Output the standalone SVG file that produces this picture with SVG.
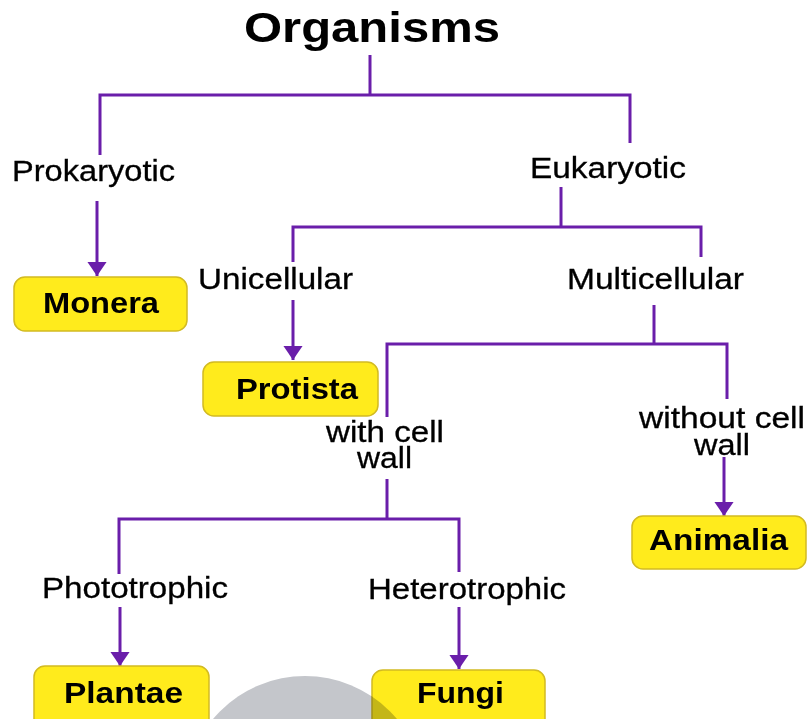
<svg xmlns="http://www.w3.org/2000/svg" width="807" height="719" viewBox="0 0 807 719">
  <style>
    .title { font-family: "Liberation Sans", Arial, sans-serif; font-weight: bold; font-size: 43px; fill: #000; }
    .lbl { font-family: "Liberation Sans", Arial, sans-serif; font-size: 29px; fill: #000; stroke: #000; stroke-width: 0.3; }
    .nodeTxt { font-family: "Liberation Sans", Arial, sans-serif; font-weight: bold; font-size: 29px; fill: #000; }
    .box { fill: #FFEB1C; stroke: #D2BA22; stroke-width: 1.5; }
    .conn { fill: none; stroke: #6A1EAA; stroke-width: 3; stroke-linecap: butt; stroke-linejoin: miter; }
  </style>
  <defs>
    <marker id="arrow" markerWidth="5" markerHeight="6.4" refX="4.7" refY="3.2" orient="auto" markerUnits="strokeWidth">
      <path d="M0,0 L4.7,3.2 L0,6.4 Z" fill="#6A1EAA"/>
    </marker>
  </defs>
  <rect width="807" height="719" fill="#FFFFFF"/>

  <g id="title">
    <text class="title" x="244" y="42" textLength="256" lengthAdjust="spacingAndGlyphs">Organisms</text>
  </g>

  <g id="connectors">
    <path class="conn" d="M370,55 V95"/>
    <path class="conn" d="M100,155 V95 H630 V143"/>
    <path class="conn" d="M97,201 V276" marker-end="url(#arrow)"/>
    <path class="conn" d="M561,187 V227"/>
    <path class="conn" d="M293,262 V227 H701 V257"/>
    <path class="conn" d="M293,300 V360" marker-end="url(#arrow)"/>
    <path class="conn" d="M654,305 V344"/>
    <path class="conn" d="M387,417 V344 H727 V399"/>
    <path class="conn" d="M724,457 V516" marker-end="url(#arrow)"/>
    <path class="conn" d="M387,479 V519"/>
    <path class="conn" d="M119,574 V519 H459 V572"/>
    <path class="conn" d="M120,607 V666" marker-end="url(#arrow)"/>
    <path class="conn" d="M459,607 V669" marker-end="url(#arrow)"/>
  </g>

  <g id="label-prokaryotic">
    <text class="lbl" x="12" y="181" textLength="163" lengthAdjust="spacingAndGlyphs">Prokaryotic</text>
  </g>
  <g id="label-eukaryotic">
    <text class="lbl" x="530" y="178" textLength="156" lengthAdjust="spacingAndGlyphs">Eukaryotic</text>
  </g>
  <g id="label-unicellular">
    <text class="lbl" x="198" y="289" textLength="155" lengthAdjust="spacingAndGlyphs">Unicellular</text>
  </g>
  <g id="label-multicellular">
    <text class="lbl" x="567" y="289" textLength="177" lengthAdjust="spacingAndGlyphs">Multicellular</text>
  </g>
  <g id="label-with-cell-wall">
    <text class="lbl" x="326" y="442" textLength="118" lengthAdjust="spacingAndGlyphs">with cell</text>
    <text class="lbl" x="357" y="468" textLength="55" lengthAdjust="spacingAndGlyphs">wall</text>
  </g>
  <g id="label-without-cell-wall">
    <text class="lbl" x="639" y="428" textLength="166" lengthAdjust="spacingAndGlyphs">without cell</text>
    <text class="lbl" x="694" y="455" textLength="56" lengthAdjust="spacingAndGlyphs">wall</text>
  </g>
  <g id="label-phototrophic">
    <text class="lbl" x="42" y="598" textLength="186" lengthAdjust="spacingAndGlyphs">Phototrophic</text>
  </g>
  <g id="label-heterotrophic">
    <text class="lbl" x="368" y="599" textLength="198" lengthAdjust="spacingAndGlyphs">Heterotrophic</text>
  </g>

  <g id="node-monera">
    <rect class="box" x="14" y="277" width="173" height="54" rx="11"/>
    <text class="nodeTxt" x="43" y="313" textLength="116" lengthAdjust="spacingAndGlyphs">Monera</text>
  </g>
  <g id="node-protista">
    <rect class="box" x="203" y="362" width="175" height="54" rx="11"/>
    <text class="nodeTxt" x="236" y="399" textLength="122" lengthAdjust="spacingAndGlyphs">Protista</text>
  </g>
  <g id="node-animalia">
    <rect class="box" x="632" y="516" width="174" height="53" rx="11"/>
    <text class="nodeTxt" x="649" y="550" textLength="139" lengthAdjust="spacingAndGlyphs">Animalia</text>
  </g>
  <g id="node-plantae">
    <rect class="box" x="34" y="666" width="175" height="70" rx="11"/>
    <text class="nodeTxt" x="64" y="703" textLength="119" lengthAdjust="spacingAndGlyphs">Plantae</text>
  </g>
  <g id="node-fungi">
    <rect class="box" x="372" y="670" width="173" height="66" rx="11"/>
    <text class="nodeTxt" x="417" y="703" textLength="87" lengthAdjust="spacingAndGlyphs">Fungi</text>
  </g>

  <circle cx="305" cy="796" r="120" fill="#C4C6CB" style="mix-blend-mode: multiply"/>
</svg>
